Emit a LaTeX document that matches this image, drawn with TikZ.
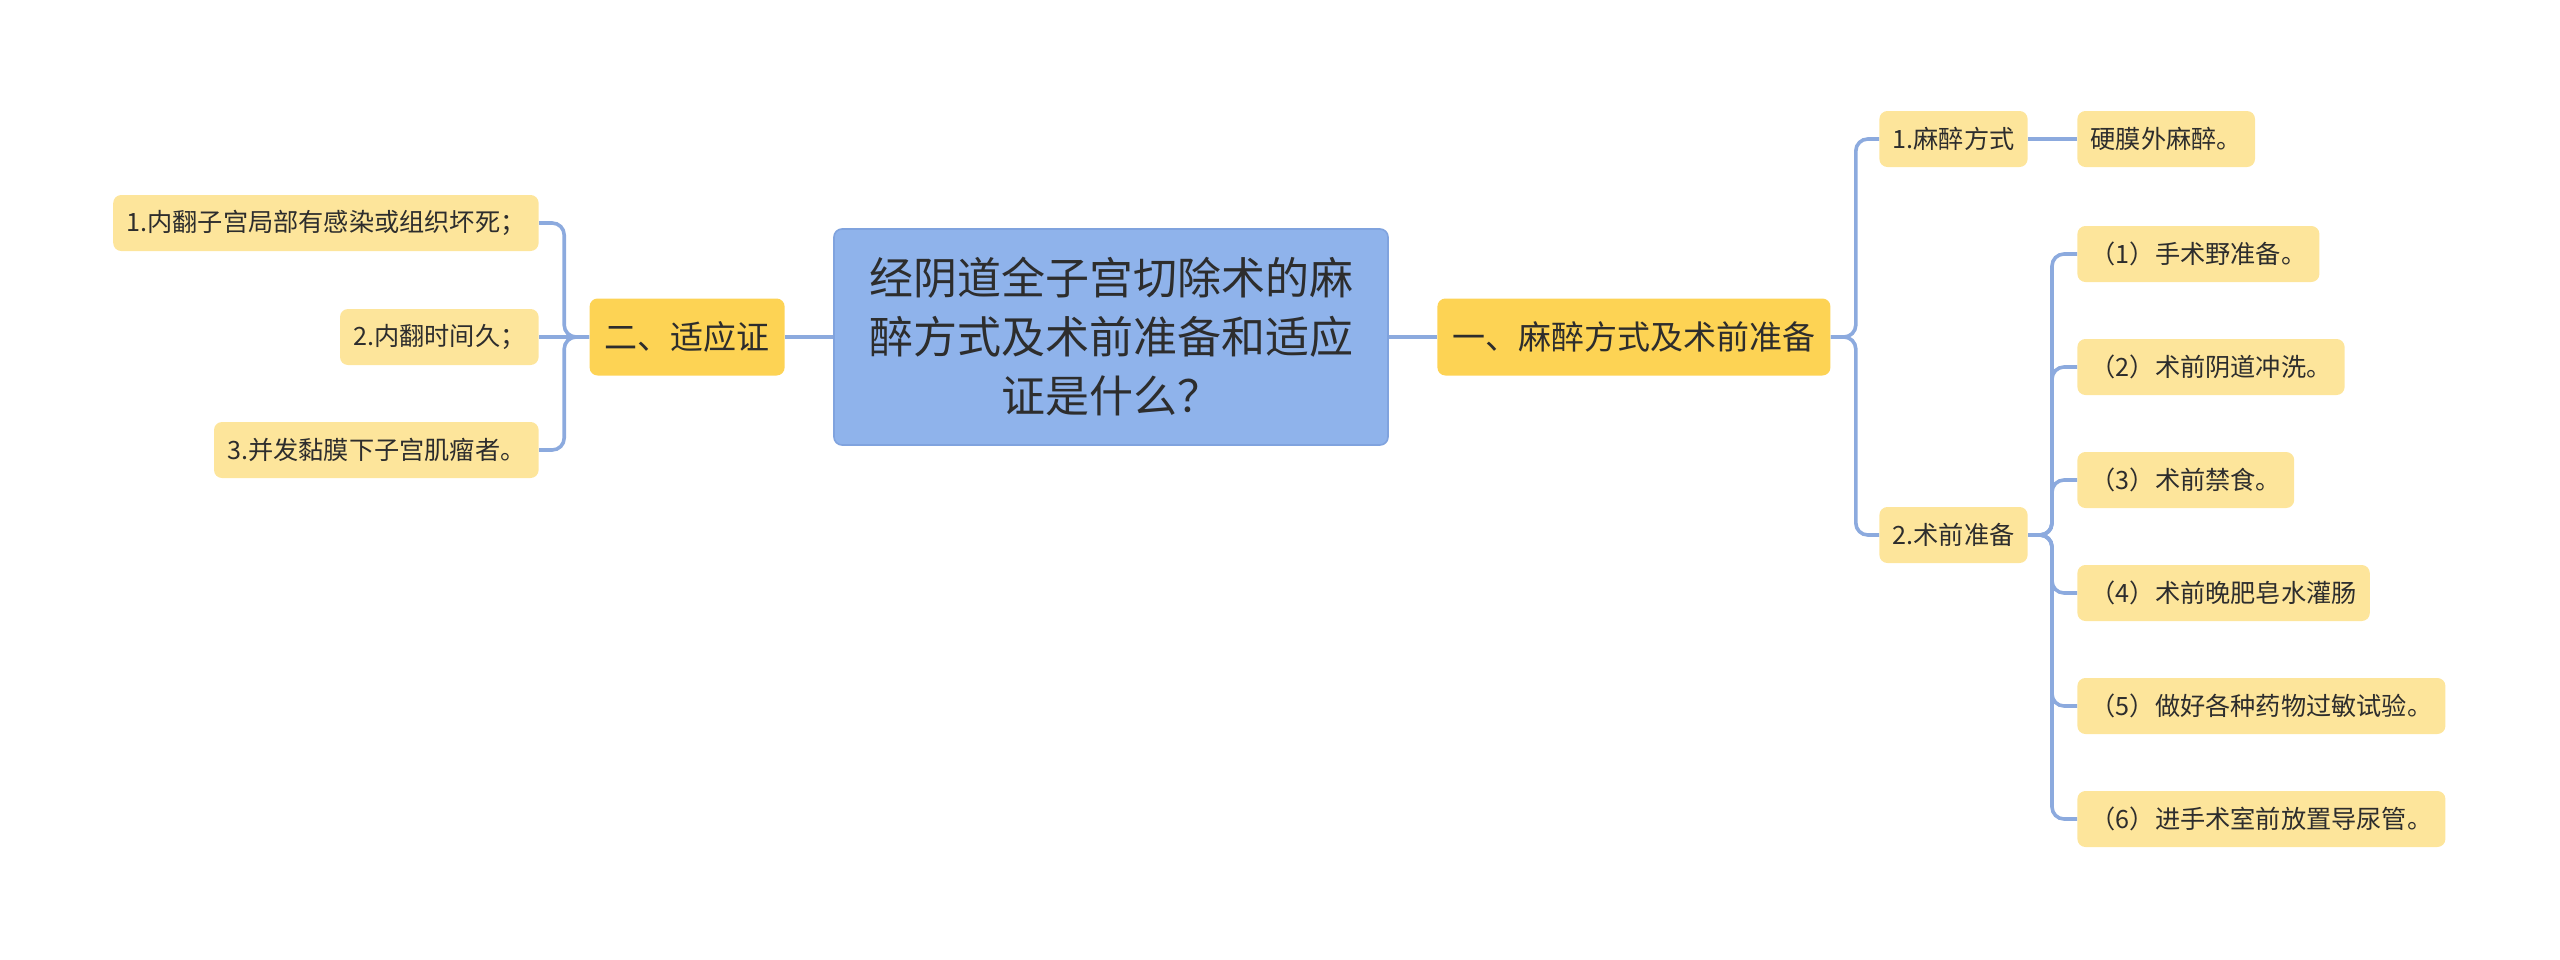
\documentclass[tikz,border=0pt]{standalone}
\usepackage{fontspec}
\setmainfont{Noto Sans CJK SC}
\definecolor{bleuracine}{RGB}{143,179,235}
\definecolor{bordracine}{RGB}{128,163,222}
\definecolor{jaunefonce}{RGB}{253,211,84}
\definecolor{jauneclair}{RGB}{253,229,155}
\definecolor{trait}{RGB}{140,170,222}
\definecolor{texte}{RGB}{45,45,45}
\tikzset{
  racine/.style={draw=bordracine, line width=0.8pt, fill=bleuracine, rounded corners=4pt,
    align=center, text=texte, font=\fontsize{22}{29.5}\selectfont,
    minimum width=277pt, minimum height=108pt, inner sep=0pt},
  niveau/.style={fill=jaunefonce, rounded corners=4pt, text=texte,
    font=\fontsize{16.5}{20}\selectfont, inner xsep=7.5pt, inner ysep=0pt, minimum height=38.5pt},
  feuille/.style={fill=jauneclair, rounded corners=4pt, text=texte,
    font=\fontsize{12.6}{15}\selectfont, inner xsep=6.6pt, inner ysep=0pt, minimum height=28pt},
  lien/.style={draw=trait, line width=1.8pt, rounded corners=6pt}
}
\begin{document}
\begin{tikzpicture}[x=0.5pt, y=-0.5pt]
    \useasboundingbox (0,0) rectangle (2560,959);

    % Le noeud central
    \node[racine] (racine) at (1111,337) {经阴道全子宫切除术的麻\\醉方式及术前准备和适应\\证是什么？};

    % Les deux branches principales
    \node[niveau, anchor=west] (anest) at (1437,337) {一、麻醉方式及术前准备};
    \node[niveau, anchor=east] (indic) at (785,337) {二、适应证};
    \draw[lien] (racine.east) -- (anest.west);
    \draw[lien] (racine.west) -- (indic.east);

    % Branche de droite
    \node[feuille, anchor=west] (mode) at (1879,139) {1.麻醉方式};
    \node[feuille, anchor=west] (prep) at (1879,535) {2.术前准备};
    \node[feuille, anchor=west] (epid) at (2077,139) {硬膜外麻醉。};
    \draw[lien] (anest.east) -- ++(25,0) |- (mode.west);
    \draw[lien] (anest.east) -- ++(25,0) |- (prep.west);
    \draw[lien] (mode.east) -- (epid.west);

    % Les six points de la preparation
    \foreach \y/\t [count=\i] in {254/{（1）手术野准备。}, 367/{（2）术前阴道冲洗。},
        480/{（3）术前禁食。}, 593/{（4）术前晚肥皂水灌肠},
        706/{（5）做好各种药物过敏试验。}, 819/{（6）进手术室前放置导尿管。}}
    {
        \node[feuille, anchor=west] (p\i) at (2077,\y) {\t};
        \draw[lien] (prep.east) -- ++(24,0) |- (p\i.west);
    }

    % Branche de gauche
    \node[feuille, anchor=east] (ind1) at (539,223) {1.内翻子宫局部有感染或组织坏死；};
    \node[feuille, anchor=east] (ind2) at (539,337) {2.内翻时间久；};
    \node[feuille, anchor=east] (ind3) at (539,450) {3.并发黏膜下子宫肌瘤者。};
    \draw[lien] (indic.west) -- ++(-25,0) |- (ind1.east);
    \draw[lien] (indic.west) -- (ind2.east);
    \draw[lien] (indic.west) -- ++(-25,0) |- (ind3.east);
\end{tikzpicture}
\end{document}
